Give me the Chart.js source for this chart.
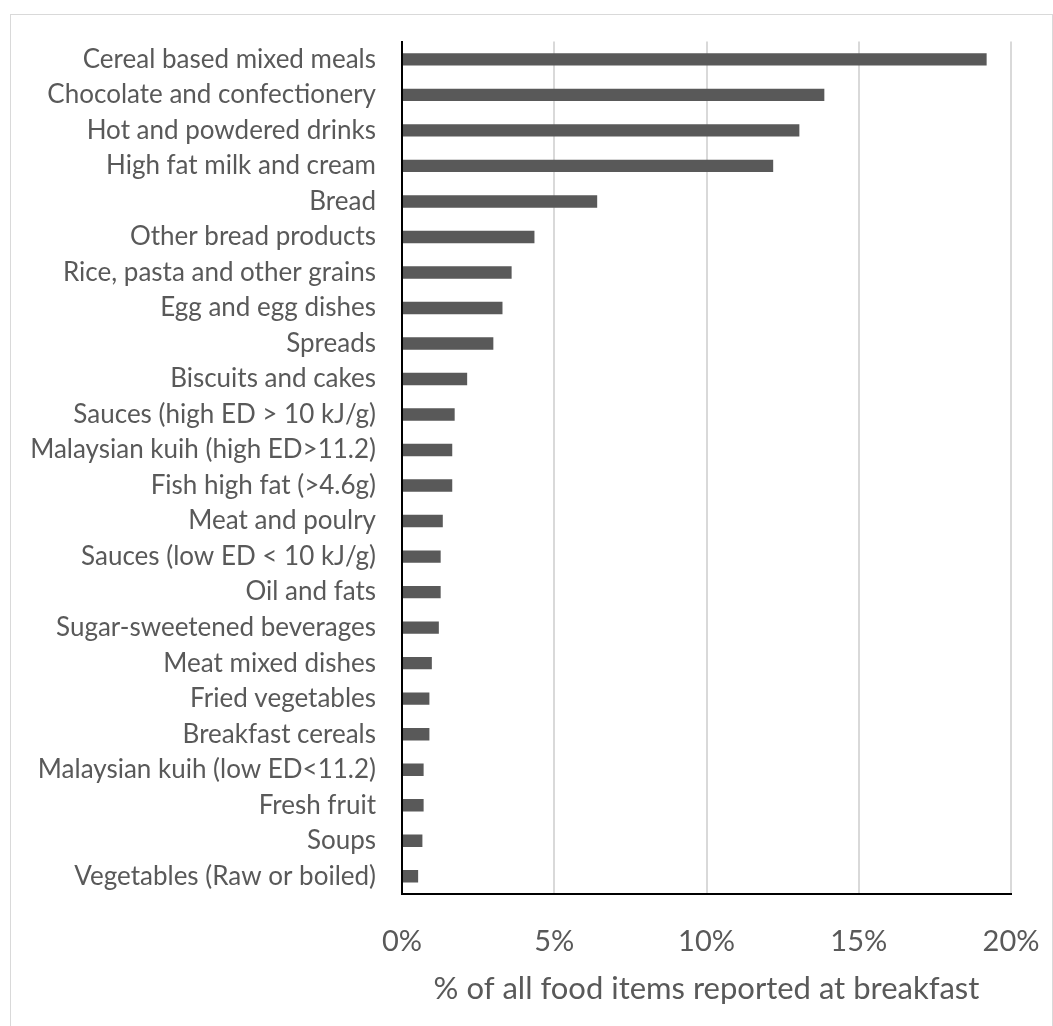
<!DOCTYPE html>
<html>
<head>
<meta charset="utf-8">
<script src="https://cdn.jsdelivr.net/npm/chart.js@4/dist/chart.umd.min.js"></script>
<style>
    html, body { margin: 0; padding: 0; background: #fff; }
    #wrap { position: relative; width: 1053px; height: 1026px; overflow: hidden; }
    #frame { position: absolute; left: 10px; top: 14px; width: 1041px; height: 1100px; border: 1px solid #d9d9d9; }
    canvas { position: absolute; left: 0; top: 0; }
</style>
</head>
<body>
<div id="wrap">
    <div id="frame"></div>
    <canvas id="breakfastChart" width="1053" height="1026"></canvas>
</div>
<script>
const categories = [
    "Cereal based mixed meals",
    "Chocolate and confectionery",
    "Hot and powdered drinks",
    "High fat milk and cream",
    "Bread",
    "Other bread products",
    "Rice, pasta and other grains",
    "Egg and egg dishes",
    "Spreads",
    "Biscuits and cakes",
    "Sauces (high ED > 10 kJ/g)",
    "Malaysian kuih (high ED>11.2)",
    "Fish high fat (>4.6g)",
    "Meat and poulry",
    "Sauces (low ED < 10 kJ/g)",
    "Oil and fats",
    "Sugar-sweetened beverages",
    "Meat mixed dishes",
    "Fried vegetables",
    "Breakfast cereals",
    "Malaysian kuih (low ED<11.2)",
    "Fresh fruit",
    "Soups",
    "Vegetables (Raw or boiled)"
];
const shares = [19.2, 13.87, 13.05, 12.19, 6.41, 4.35, 3.6, 3.3, 3.0, 2.14, 1.73, 1.65, 1.65, 1.34, 1.27, 1.27, 1.21, 0.98, 0.9, 0.9, 0.71, 0.71, 0.67, 0.53];
const xTicks = [0, 5, 10, 15, 20];
const xTitle = "% of all food items reported at breakfast";

document.addEventListener("DOMContentLoaded", () => {
    const ctx = document.getElementById("breakfastChart").getContext("2d");
    const fontFamily = "Lato, 'Open Sans', sans-serif";

    new Chart(ctx, {
        type: "bar",
        data: {
            labels: categories,
            datasets: [{
                data: shares,
                backgroundColor: "#595959",
                borderWidth: 0,
                barPercentage: 0.7,
                categoryPercentage: 0.5
            }]
        },
        options: {
            indexAxis: "y",
            responsive: false,
            animation: false,
            layout: { padding: { top: 40, right: 42, bottom: 0, left: 0 } },
            plugins: { legend: { display: false }, tooltip: { enabled: false } },
            scales: {
                x: {
                    min: 0,
                    max: 20,
                    afterBuildTicks: axis => { axis.ticks = xTicks.map(v => ({ value: v })); },
                    afterFit: axis => {
                        axis.height = 132;
                        axis.paddingLeft = 0;
                        axis.paddingRight = 0;
                    },
                    ticks: {
                        color: "#595959",
                        padding: 30,
                        font: { family: fontFamily, size: 29 },
                        callback: v => v + "%"
                    },
                    grid: {
                        color: ctx => ctx.tick && ctx.tick.value === 0 ? "rgba(0,0,0,0)" : "#d9d9d9",
                        lineWidth: 2,
                        drawTicks: false
                    },
                    border: { color: "#000", width: 2 },
                    title: {
                        display: true,
                        text: xTitle,
                        color: "#595959",
                        font: { family: fontFamily, size: 31 },
                        padding: { top: 0, bottom: 18 }
                    }
                },
                y: {
                    afterFit: axis => { axis.width = 402; },
                    ticks: {
                        color: "#595959",
                        padding: 26,
                        autoSkip: false,
                        font: { family: fontFamily, size: 26 }
                    },
                    grid: { display: false, drawTicks: false },
                    border: { color: "#000", width: 2 }
                }
            }
        }
    });
});
</script>
</body>
</html>
